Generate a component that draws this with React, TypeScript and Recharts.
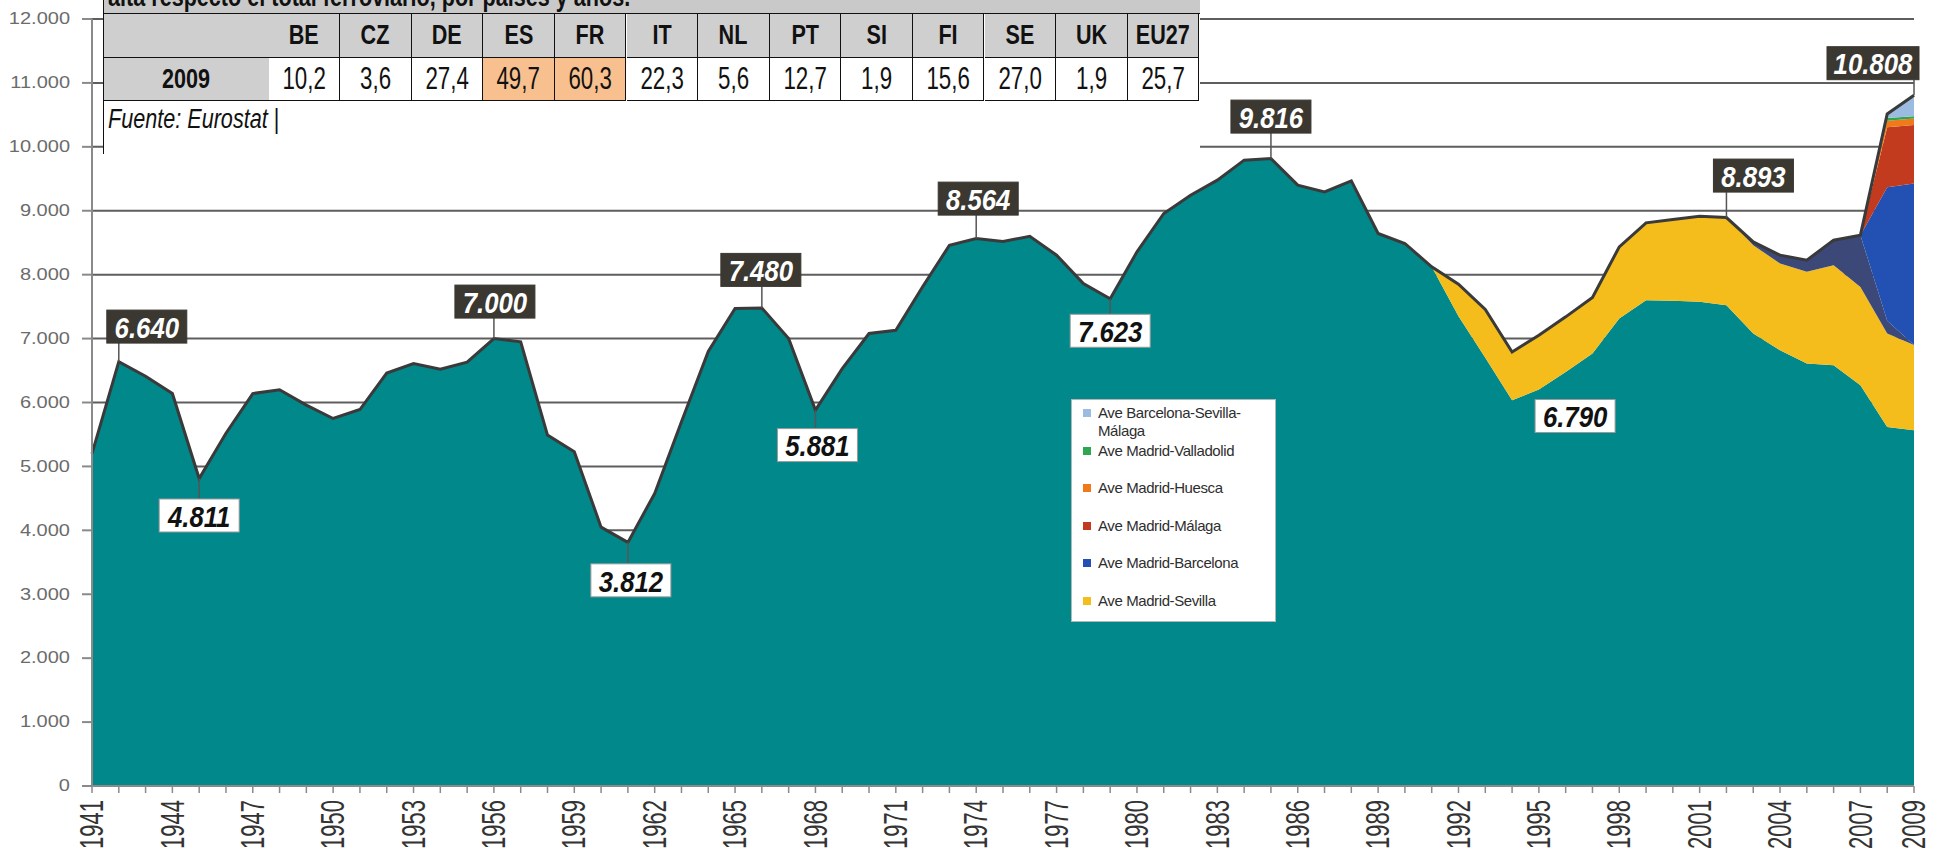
import React from 'react';
import {
  Area,
  CartesianGrid,
  ComposedChart,
  LabelList,
  Line,
  XAxis,
  YAxis
} from 'recharts';

const W = 1937;
const H = 856;

// años 1941-2009
const firstYear = 1941;
const lastYear = 2009;
const years = Array.from({ length: lastYear - firstYear + 1 }, (_, i) => firstYear + i);

// viajeros-km (millones), servicio convencional
const convencional = [
  5200, 6640, 6410, 6140, 4811, 5520, 6140, 6200, 5960, 5750,
  5890, 6460, 6610, 6520, 6630, 7000, 6950, 5490, 5230, 4050,
  3812, 4576, 5700, 6800, 7470, 7480, 7000, 5881, 6530, 7080,
  7130, 7810, 8460, 8564, 8520, 8600, 8305, 7862, 7623, 8357,
  8957, 9244, 9479, 9792, 9816, 9400, 9296, 9468, 8645, 8488,
  8122, 7350, 6700, 6036, 6203, 6479, 6767, 7314, 7601, 7590,
  7575, 7523, 7080, 6818, 6610, 6584, 6271, 5618, 5566
];

// lineas AVE, 1992-2009
const aveFirstYear = 1992;
const madridSevilla = [500, 755, 754, 850, 861, 876, 1121, 1210, 1274, 1340, 1370, 1382, 1357, 1434, 1565, 1538, 1462, 1335];
const madridLleida = [0, 0, 0, 0, 0, 0, 0, 0, 0, 0, 0, 51, 130, 183, 391, 809, 200, 0];
const madridBarcelona = [0, 0, 0, 0, 0, 0, 0, 0, 0, 0, 0, 0, 0, 0, 0, 0, 2086, 2526];
const madridMalaga = [0, 0, 0, 0, 0, 0, 0, 0, 0, 0, 0, 0, 0, 0, 0, 0, 939, 913];
const madridHuesca = [0, 0, 0, 0, 0, 0, 0, 0, 0, 0, 0, 0, 0, 0, 0, 0, 105, 104];
const madridValladolid = [0, 0, 0, 0, 0, 0, 0, 0, 0, 0, 0, 0, 0, 0, 0, 0, 42, 36];
const barcelonaSevillaMalaga = [0, 0, 0, 0, 0, 0, 0, 0, 0, 0, 0, 0, 0, 0, 0, 0, 63, 328];

const yTicks = [0, 1000, 2000, 3000, 4000, 5000, 6000, 7000, 8000, 9000, 10000, 11000, 12000];

// tabla Eurostat
const countries = ['BE', 'CZ', 'DE', 'ES', 'FR', 'IT', 'NL', 'PT', 'SI', 'FI', 'SE', 'UK', 'EU27'];
const share2009 = [10.2, 3.6, 27.4, 49.7, 60.3, 22.3, 5.6, 12.7, 1.9, 15.6, 27.0, 1.9, 25.7];
const highlighted = ['ES', 'FR'];

// años con etiqueta y donde va la caja
const annotations = [
  { year: 1942, dx: 28, dy: -35, dark: true },
  { year: 1945, dx: 0, dy: 37, dark: false },
  { year: 1956, dx: 1, dy: -37, dark: true },
  { year: 1961, dx: 3, dy: 38, dark: false },
  { year: 1966, dx: -1, dy: -38, dark: true },
  { year: 1968, dx: 2, dy: 35, dark: false },
  { year: 1974, dx: 2, dy: -40, dark: true },
  { year: 1979, dx: 0, dy: 32, dark: false },
  { year: 1985, dx: 0, dy: -42, dark: true },
  { year: 1994, dx: 63, dy: 64, dark: false, noStem: true },
  { year: 2002, dx: 27, dy: -42, dark: true },
  { year: 2009, dx: -41, dy: -32, dark: true }
];

const series = [
  { key: 'conv', name: 'Convencional', color: '#00888a', values: convencional, start: firstYear, legend: false },
  { key: 'sev', name: 'Ave Madrid-Sevilla', color: '#f4bd1c', values: madridSevilla, start: aveFirstYear, legend: true },
  { key: 'lle', name: 'Ave Madrid-Lleida', color: '#3c4878', values: madridLleida, start: aveFirstYear, legend: false },
  { key: 'bcn', name: 'Ave Madrid-Barcelona', color: '#2251b3', values: madridBarcelona, start: aveFirstYear, legend: true },
  { key: 'mal', name: 'Ave Madrid-Málaga', color: '#c23b1f', values: madridMalaga, start: aveFirstYear, legend: true },
  { key: 'hue', name: 'Ave Madrid-Huesca', color: '#f07a1a', values: madridHuesca, start: aveFirstYear, legend: true },
  { key: 'vll', name: 'Ave Madrid-Valladolid', color: '#2fa650', values: madridValladolid, start: aveFirstYear, legend: true },
  { key: 'bsm', name: 'Ave Barcelona-Sevilla-Málaga', color: '#9bbbe0', values: barcelonaSevillaMalaga, start: aveFirstYear, legend: true }
];

const rows = years.map((year) => {
  const row: any = { year };
  let total = 0;
  series.forEach((s) => {
    const i = year - s.start;
    const v = i >= 0 && i < s.values.length ? s.values[i] : 0;
    row[s.key] = v;
    total += v;
  });
  row.total = total;
  return row;
});

const fmt = (v: number) => String(Math.round(v)).replace(/\B(?=(\d{3})+(?!\d))/g, '.');

const SANS = "'Liberation Sans', Arial, sans-serif";

const ValueTick = (props: any) => {
  const { x, y, payload } = props;
  return (
    <text
      transform={`translate(${x - 10},${y}) scale(1.25,1)`}
      textAnchor="end"
      dominantBaseline="central"
      fontSize={16}
      fontFamily={SANS}
      fill="#6b6b6b"
    >
      {fmt(payload.value)}
    </text>
  );
};

const YearTick = (props: any) => {
  const { x, y, payload } = props;
  const yr = payload.value;
  if ((yr - firstYear) % 3 !== 0 && yr !== lastYear) return null;
  return (
    <text
      transform={`translate(${x},${y + 5}) rotate(-90) scale(1,1.5)`}
      textAnchor="end"
      dominantBaseline="central"
      fontSize={22}
      fontFamily={SANS}
      fill="#333"
    >
      {yr}
    </text>
  );
};

const renderAnnotation = (props: any) => {
  const { x, y, index, value } = props;
  const a = annotations.find((an) => an.year === years[index]);
  if (!a) return null;
  const text = fmt(value);
  const bw = text.length > 5 ? 92 : 80;
  const bh = 33;
  const cx = x + a.dx;
  const cy = y + a.dy;
  const edge = a.dy < 0 ? cy + bh / 2 : cy - bh / 2;
  return (
    <g key={`ann-${index}`}>
      {!a.noStem && <line x1={x} y1={y} x2={x} y2={edge} stroke="#555" strokeWidth={1.5} />}
      <rect
        x={cx - bw / 2}
        y={cy - bh / 2}
        width={bw}
        height={bh}
        fill={a.dark ? '#3b3731' : '#fff'}
        stroke={a.dark ? '#3b3731' : '#9a9a9a'}
        strokeWidth={1}
      />
      <text
        transform={`translate(${cx},${cy + 1}) scale(0.92,1.08)`}
        textAnchor="middle"
        dominantBaseline="central"
        fontSize={28}
        fontWeight="bold"
        fontStyle="italic"
        fontFamily={SANS}
        fill={a.dark ? '#fff' : '#111'}
      >
        {text}
      </text>
    </g>
  );
};

// texto estrecho (no hay Arial Narrow instalada)
const Narrow = ({ children, sx = 0.8 }: any) => (
  <span style={{ display: 'inline-block', transform: `scaleX(${sx})`, whiteSpace: 'nowrap' }}>{children}</span>
);

const EurostatTable = () => {
  const left = 103;
  const firstCol = 166;
  const col = 71.6;
  const cell = (key: string, x: number, top: number, w: number, h: number, bg: string, content: any, style: any = {}) => (
    <div
      key={key}
      style={{
        position: 'absolute',
        left: x,
        top,
        width: w,
        height: h,
        background: bg,
        borderRight: '1.5px solid #111',
        borderBottom: '1.5px solid #111',
        boxSizing: 'border-box',
        display: 'flex',
        alignItems: 'center',
        justifyContent: 'center',
        color: '#111',
        fontFamily: SANS,
        ...style
      }}
    >
      {content}
    </div>
  );
  return (
    <div style={{ position: 'absolute', left, top: 0, width: 1097, height: 154, background: '#fff', borderLeft: '1.5px solid #111', boxSizing: 'border-box', overflow: 'hidden' }}>
      <div style={{ position: 'absolute', left: 0, top: 0, width: 1097, height: 14, background: '#c9c9c9', borderBottom: '1.5px solid #111', boxSizing: 'border-box', overflow: 'hidden' }}>
        <div style={{ position: 'absolute', left: 4, top: -18, fontFamily: SANS, fontWeight: 'bold', fontSize: 27, whiteSpace: 'nowrap', color: '#111', transform: 'scaleX(0.8)', transformOrigin: 'left top' }}>
          alta respecto el total ferroviario, por países y años.
        </div>
      </div>
      {cell('h0', -1.5, 14, firstCol + 1.5, 44, '#cfcfcf', '')}
      {countries.map((c, i) =>
        cell(`h${c}`, firstCol + i * col - 1.5, 14, col, 44, '#cfcfcf', <Narrow>{c}</Narrow>, { fontWeight: 'bold', fontSize: 27 })
      )}
      {cell('r0', -1.5, 58, firstCol + 1.5, 43, '#cfcfcf', <Narrow>2009</Narrow>, { fontWeight: 'bold', fontSize: 27 })}
      {share2009.map((v, i) =>
        cell(
          `v${i}`,
          firstCol + i * col - 1.5,
          58,
          col,
          43,
          highlighted.includes(countries[i]) ? '#f9c08f' : '#fff',
          <Narrow sx={0.72}>{v.toFixed(1).replace('.', ',')}</Narrow>,
          { fontSize: 31 }
        )
      )}
      <div style={{ position: 'absolute', left: 4, top: 104, fontFamily: SANS, fontStyle: 'italic', fontSize: 27, color: '#111', whiteSpace: 'nowrap', transform: 'scaleX(0.8)', transformOrigin: 'left top' }}>
        Fuente: Eurostat <span style={{ fontStyle: 'normal', fontWeight: 300 }}>|</span>
      </div>
    </div>
  );
};

const LegendBox = () => {
  const items = series.filter((s) => s.legend).reverse();
  return (
    <div style={{ position: 'absolute', left: 1071, top: 399, width: 205, height: 223, background: '#fff', border: '1px solid #b5b5b5', boxSizing: 'border-box' }}>
      {items.map((s, i) => (
        <div key={s.key} style={{ position: 'absolute', left: 11, top: 4 + i * 37.5, display: 'flex', alignItems: 'flex-start' }}>
          <div style={{ width: 8, height: 8, background: s.color, marginTop: 5, marginRight: 7 }} />
          <div style={{ width: 165, fontFamily: SANS, fontSize: 15, lineHeight: '18px', color: '#2e2e2e', letterSpacing: -0.4 }}>{s.name}</div>
        </div>
      ))}
    </div>
  );
};

export default function App() {
  return (
    <div style={{ position: 'absolute', left: 0, top: 0, width: W, height: H, background: '#fff', overflow: 'hidden' }}>
      <ComposedChart width={W} height={H} data={rows} margin={{ top: 19, right: 23, bottom: 0, left: 0 }}>
        <CartesianGrid vertical={false} stroke="#5e5e5e" strokeWidth={2} />
        <XAxis
          dataKey="year"
          scale="point"
          interval={0}
          height={70}
          tick={<YearTick />}
          tickSize={7}
          tickLine={{ stroke: '#8a8a8a', strokeWidth: 1.5 }}
          axisLine={{ stroke: '#8a8a8a', strokeWidth: 2 }}
        />
        <YAxis
          width={92}
          domain={[0, 12000]}
          ticks={yTicks}
          interval={0}
          tick={<ValueTick />}
          tickSize={10}
          tickLine={{ stroke: '#8a8a8a', strokeWidth: 2 }}
          axisLine={{ stroke: '#8a8a8a', strokeWidth: 2 }}
        />
        {series.map((s) => (
          <Area
            key={s.key}
            dataKey={s.key}
            name={s.name}
            stackId="total"
            type="linear"
            fill={s.color}
            fillOpacity={1}
            stroke="none"
            isAnimationActive={false}
          />
        ))}
        <Line dataKey="total" type="linear" stroke="#3a3a3a" strokeWidth={3} dot={false} isAnimationActive={false}>
          <LabelList dataKey="total" content={renderAnnotation} />
        </Line>
      </ComposedChart>
      <EurostatTable />
      <LegendBox />
    </div>
  );
}
